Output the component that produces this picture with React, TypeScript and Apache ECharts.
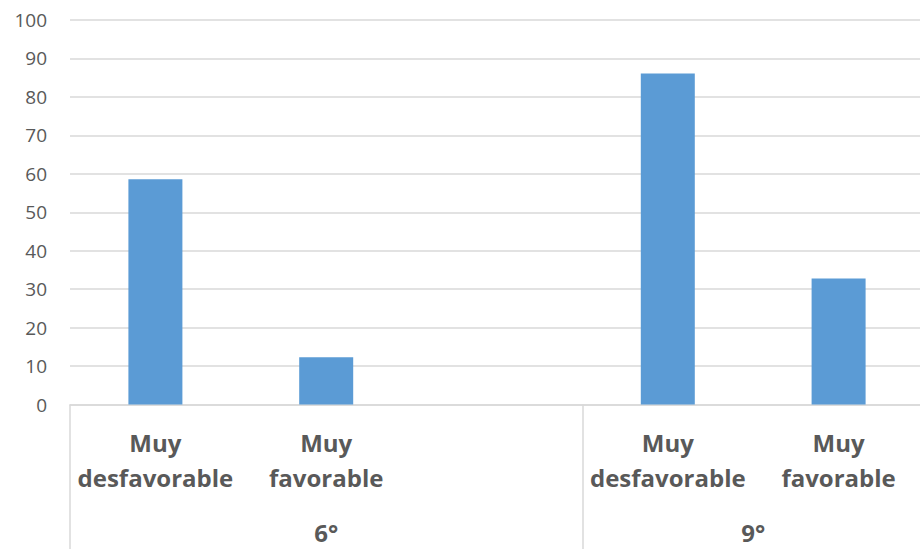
import React, { useEffect, useRef } from "react";
import * as echarts from "echarts";

const categories = ["Muy\ndesfavorable", "Muy\nfavorable", "", "Muy\ndesfavorable", "Muy\nfavorable"];
const values: (number | null)[] = [58.6, 12.3, null, 86.1, 32.8];
const groups = ["6°", "9°"];
const groupSpans = [3, 2];
const yTicks = { min: 0, max: 100, interval: 10 };

export default function App() {
  const ref = useRef<HTMLDivElement>(null);
  useEffect(() => {
    document.body.style.margin = "0";
    document.body.style.overflow = "hidden";
    document.documentElement.style.overflow = "hidden";
    if (!ref.current) return;
    const chart = echarts.init(ref.current, null, { renderer: "svg" });

    const boundaries: number[] = [];
    const centres: Record<string, string> = {};
    let acc = 0;
    groups.forEach((g, i) => {
      boundaries.push(acc);
      centres[String(acc + groupSpans[i] / 2)] = g;
      acc += groupSpans[i];
    });

    const textColor = "#595959";
    const gridColor = "#d9d9d9";
    const font = "'Open Sans', 'Liberation Sans', sans-serif";

    chart.setOption({
      animation: false,
      grid: {
        left: 70,
        right: -4,
        top: 20,
        bottom: 144.5,
        containLabel: false,
        outerBoundsMode: "none",
      },
      xAxis: [
        {
          type: "category",
          data: categories,
          axisLine: { show: true, lineStyle: { color: gridColor, width: 1.5 } },
          axisTick: {
            show: true,
            length: 150,
            interval: (index: number) => boundaries.indexOf(index) >= 0,
            lineStyle: { color: gridColor, width: 1.5 },
          },
          axisLabel: {
            interval: 0,
            color: textColor,
            fontSize: 24,
            fontWeight: "bold",
            fontFamily: font,
            lineHeight: 35,
            margin: 20,
          },
          splitLine: { show: false },
        },
        {
          type: "value",
          position: "bottom",
          min: 0,
          max: categories.length,
          interval: 0.5,
          axisLine: { show: false },
          axisTick: { show: false },
          splitLine: { show: false },
          axisLabel: {
            color: textColor,
            fontSize: 24,
            fontWeight: "bold",
            fontFamily: font,
            lineHeight: 20,
            margin: 118,
            showMinLabel: true,
            showMaxLabel: true,
            formatter: (v: number) => centres[String(v)] ?? "",
          },
        },
      ],
      yAxis: {
        type: "value",
        min: yTicks.min,
        max: yTicks.max,
        interval: yTicks.interval,
        axisLine: { show: false },
        axisTick: { show: false },
        splitLine: { show: true, lineStyle: { color: gridColor, width: 1.5 } },
        axisLabel: {
          color: textColor,
          fontSize: 19,
          fontFamily: font,
          margin: 23,
        },
      },
      series: [
        {
          type: "bar",
          xAxisIndex: 0,
          data: values,
          barWidth: 54,
          itemStyle: { color: "#5b9bd5" },
        },
      ],
    });
    return () => chart.dispose();
  }, []);
  return <div ref={ref} style={{ width: 920, height: 549 }} />;
}
